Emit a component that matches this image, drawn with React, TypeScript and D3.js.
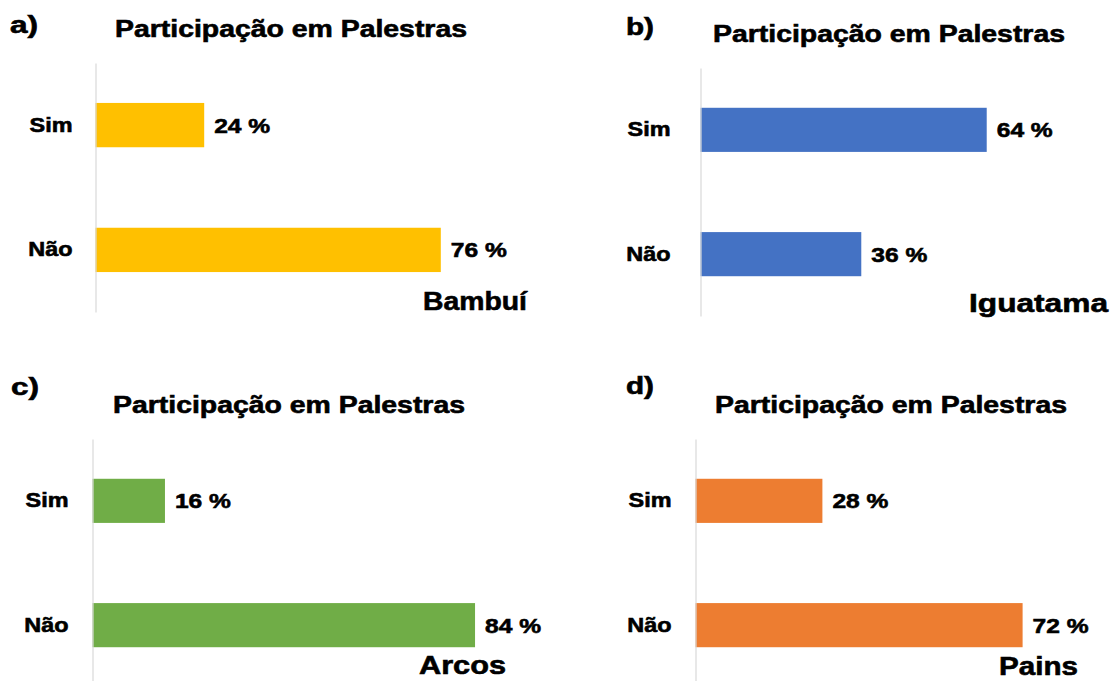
import { useEffect, useRef } from 'react';
import * as d3 from 'd3';

const categories = ['Sim', 'Não'];
const cities = ['Bambuí', 'Iguatama', 'Arcos', 'Pains'];
const letters = ['a)', 'b)', 'c)', 'd)'];
const chartTitle = 'Participação em Palestras';

const bambuiValues = [24, 76];
const iguatamaValues = [64, 36];
const arcosValues = [16, 84];
const painsValues = [28, 72];
const seriesValues = [bambuiValues, iguatamaValues, arcosValues, painsValues];

const barColors = ['#FFC000', '#4472C4', '#70AD47', '#ED7D31'];

// where each small chart sits on the page
const layout = [
  { axisX: 95, top: 63, bottom: 312, span: 455, titleCx: 291, titleY: 37, letterX: 10, letterY: 33, labelX: 72, cityRight: 527, cityY: 310, cityW: 104 },
  { axisX: 700, top: 68, bottom: 316, span: 448, titleCx: 889, titleY: 42, letterX: 626, letterY: 35, labelX: 670, cityRight: 1108, cityY: 312, cityW: 139 },
  { axisX: 92, top: 439, bottom: 687, span: 456, titleCx: 289, titleY: 413, letterX: 11, letterY: 395, labelX: 68, cityRight: 506, cityY: 674, cityW: 87 },
  { axisX: 695, top: 439, bottom: 687, span: 455, titleCx: 891, titleY: 413, letterX: 626, letterY: 394, labelX: 671, cityRight: 1078, cityY: 675, cityW: 79 },
];

const width = 1113;
const height = 681;
const font = "'Liberation Sans', Arial, sans-serif";

const stretch = (sel: d3.Selection<SVGTextElement, any, any, any>, k: number) => {
  sel.each(function () {
    const len = this.getComputedTextLength();
    d3.select(this).attr('textLength', len * k).attr('lengthAdjust', 'spacingAndGlyphs');
  });
};

const App = () => {
  const svgRef = useRef<SVGSVGElement | null>(null);

  useEffect(() => {
    const svgElement = svgRef.current;
    if (!svgElement) return;
    const svg = d3.select(svgElement);
    svg.selectAll('*').remove();

    layout.forEach((p, i) => {
      const values = seriesValues[i];
      const data = categories.map((c, j) => ({ cat: c, value: values[j] }));

      const x = d3.scaleLinear().domain([0, 100]).range([p.axisX, p.axisX + p.span]);
      const y = d3.scaleBand<string>()
        .domain(categories)
        .range([p.top, p.bottom])
        .paddingInner(0.645)
        .paddingOuter(0.32);

      const g = svg.append('g')
        .attr('font-family', font)
        .attr('font-weight', 'bold')
        .attr('stroke', '#000')
        .attr('stroke-width', 0.6);

      // panel letter
      g.append('text')
        .attr('x', p.letterX)
        .attr('y', p.letterY)
        .attr('font-size', 23)
        .attr('textLength', 28)
        .attr('lengthAdjust', 'spacingAndGlyphs')
        .text(letters[i]);

      // title
      g.append('text')
        .attr('x', p.titleCx)
        .attr('y', p.titleY)
        .attr('text-anchor', 'middle')
        .attr('font-size', 23)
        .attr('textLength', 352)
        .attr('lengthAdjust', 'spacingAndGlyphs')
        .text(chartTitle);

      // bars
      g.selectAll('rect.bar')
        .data(data)
        .join('rect')
        .attr('class', 'bar')
        .attr('x', x(0) + 0.5)
        .attr('y', d => y(d.cat)!)
        .attr('width', d => x(d.value) - x(0) - 0.5)
        .attr('height', y.bandwidth())
        .attr('fill', barColors[i])
        .attr('stroke', 'none');

      // category axis
      const axis = g.append('g')
        .attr('transform', `translate(${p.axisX + 0.5},0)`)
        .call(d3.axisLeft(y).tickSize(0).tickSizeOuter(0).tickPadding(p.axisX - p.labelX));
      axis.select('.domain').attr('stroke', '#D9D9D9').attr('stroke-width', 1.2);
      const ticks = axis.selectAll<SVGTextElement, string>('text')
        .attr('font-family', font)
        .attr('font-weight', 'bold')
        .attr('font-size', 20)
        .attr('fill', '#000')
        .attr('stroke', '#000')
        .attr('stroke-width', 0.6)
        .attr('dy', '0.32em');
      stretch(ticks, 1.17);

      // value labels
      const labels = g.selectAll<SVGTextElement, any>('text.value')
        .data(data)
        .join('text')
        .attr('class', 'value')
        .attr('x', d => x(d.value) + 10)
        .attr('y', d => y(d.cat)! + y.bandwidth() / 2)
        .attr('dy', '0.36em')
        .attr('font-size', 21)
        .text(d => `${d.value} %`);
      stretch(labels, 1.17);

      // city name
      g.append('text')
        .attr('x', p.cityRight)
        .attr('y', p.cityY)
        .attr('text-anchor', 'end')
        .attr('font-size', 26)
        .attr('textLength', p.cityW)
        .attr('lengthAdjust', 'spacingAndGlyphs')
        .text(cities[i]);
    });
  }, []);

  return (
    <svg
      ref={svgRef}
      width={width}
      height={height}
      style={{ position: 'absolute', left: 0, top: 0, background: '#fff' }}
    />
  );
};

export default App;
